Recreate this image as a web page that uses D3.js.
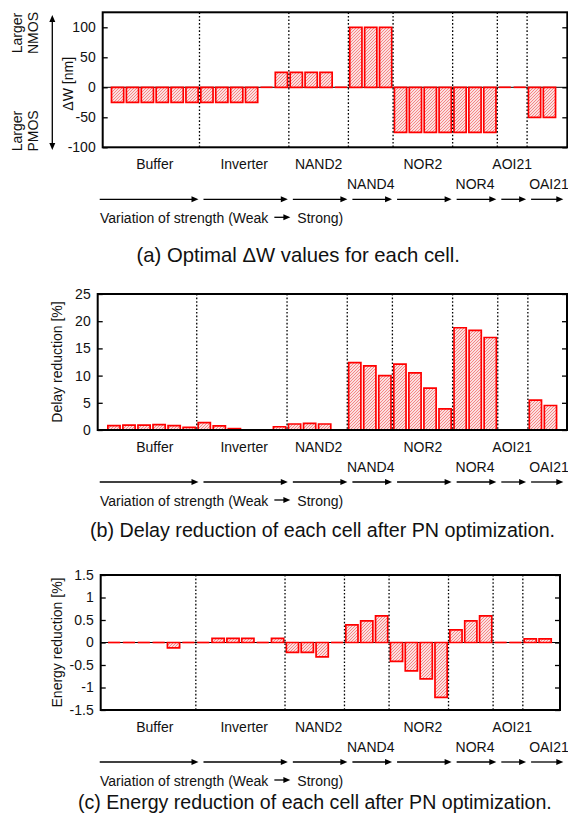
<!DOCTYPE html>
<html>
<head>
<meta charset="utf-8">
<script src="https://cdn.jsdelivr.net/npm/d3@7"></script>
<style>
  html, body { margin: 0; padding: 0; background: #fff; }
  svg { display: block; font-family: "Liberation Sans", Arial, Helvetica, sans-serif; }
</style>
</head>
<body>
<svg id="chart" width="568" height="814"></svg>
<script>
// cell groups, in order, with number of strengths each
const cells = ["Buffer", "Inverter", "NAND2", "NAND4", "NOR2", "NOR4", "AOI21", "OAI21"];
const cellSizes = [6, 6, 4, 3, 4, 3, 2, 2];
const cellRow = [0, 0, 0, 1, 0, 1, 0, 1];

// (a) optimal delta W [nm]
const deltaW = [-25, -25, -25, -25, -25, -25,
                -25, -25, -25, -25, 0, 25,
                25, 25, 25, 0,
                100, 100, 100,
                -75, -75, -75, -75,
                -75, -75, -75,
                0, 0,
                -50, -50];
// (b) delay reduction [%]
const delay = [0.8, 0.9, 0.9, 1.0, 0.8, 0.5,
               1.35, 0.75, 0.25, 0, 0, 0.6,
               1.1, 1.2, 1.1, 0,
               12.4, 11.8, 10.0,
               12.1, 10.5, 7.7, 3.9,
               18.8, 18.3, 17.0,
               0, 0,
               5.5, 4.5];
// (c) energy reduction [%]
const energy = [0, 0, 0, 0, -0.12, 0,
                0, 0.09, 0.09, 0.09, 0, 0.09,
                -0.22, -0.22, -0.32, 0,
                0.39, 0.48, 0.59,
                -0.42, -0.63, -0.81, -1.22,
                0.28, 0.48, 0.59,
                0, 0,
                0.08, 0.08];

const ticksA = [-100, -50, 0, 50, 100];
const ticksB = [0, 5, 10, 15, 20, 25];
const ticksC = [-1.5, -1, -0.5, 0, 0.5, 1, 1.5];

const svg = d3.select("#chart");
const red = "#ff0000";
const fs = 14;

// hatch pattern for the bars
const pat = svg.append("defs").append("pattern")
  .attr("id", "hatch").attr("patternUnits", "userSpaceOnUse")
  .attr("width", 3).attr("height", 3);
pat.append("rect").attr("width", 3).attr("height", 3).attr("fill", "#fbe0e0");
pat.append("path").attr("d", "M-1,1 l2,-2 M0,3 l3,-3 M2,4 l2,-2")
  .attr("stroke", "#f47c7c").attr("stroke-width", 0.9);

// group boundaries in slot units
const starts = [];
cellSizes.reduce((acc, n) => { starts.push(acc); return acc + n; }, 0);
const bounds = starts.slice(1).map(s => s - 0.5);

// common scale used for the label / arrow rows (same in all panels)
const xLab = d3.scaleLinear().domain([-1, 30.2]).range([102.7, 567.3]);

function panel(cfg) {
  const x = d3.scaleLinear().domain(cfg.xdom).range([cfg.left, cfg.right]);
  const y = d3.scaleLinear().domain(cfg.ydom).range([cfg.bottom, cfg.top]);
  const g = svg.append("g");
  const bw = 12.2;

  if (cfg.zeroLine) {
    g.append("line")
      .attr("x1", cfg.left).attr("x2", cfg.right)
      .attr("y1", y(0)).attr("y2", y(0))
      .attr("stroke", "#000").attr("stroke-width", 1);
  }

  // bars (paths so that zero-height bars still show as a line)
  g.selectAll("path.bar").data(cfg.values).enter().append("path")
    .attr("class", "bar")
    .attr("d", (v, i) => {
      const x0 = x(i) - bw / 2, x1 = x(i) + bw / 2, y0 = y(0), y1 = y(v);
      return v === 0 ? `M${x0},${y0}H${x1}` : `M${x0},${y0}V${y1}H${x1}V${y0}Z`;
    })
    .attr("fill", "url(#hatch)")
    .attr("stroke", red).attr("stroke-width", 1.7);

  // dotted separators between cell groups
  g.selectAll("line.sep").data(bounds).enter().append("line")
    .attr("x1", d => x(d)).attr("x2", d => x(d))
    .attr("y1", cfg.top).attr("y2", cfg.bottom)
    .attr("stroke", "#000").attr("stroke-width", 1.3)
    .attr("stroke-dasharray", "1.6,2");

  // y axis (left labels, ticks mirrored on right)
  const ax = g.append("g").attr("transform", `translate(${cfg.left},0)`)
    .call(d3.axisLeft(y).tickValues(cfg.ticks).tickSize(-5).tickPadding(7)
      .tickFormat(d => String(d)));
  ax.select(".domain").remove();
  ax.selectAll("line").attr("stroke-width", 1.3);
  ax.selectAll("text").attr("font-size", fs).attr("fill", "#111")
    .attr("font-family", "Liberation Sans, Arial, sans-serif");
  const ax2 = g.append("g").attr("transform", `translate(${cfg.right},0)`)
    .call(d3.axisRight(y).tickValues(cfg.ticks).tickSize(-5).tickFormat(""));
  ax2.select(".domain").remove();
  ax2.selectAll("line").attr("stroke-width", 1.3);

  // frame
  g.append("rect")
    .attr("x", cfg.left).attr("y", cfg.top)
    .attr("width", cfg.right - cfg.left).attr("height", cfg.bottom - cfg.top)
    .attr("fill", "none").attr("stroke", "#000").attr("stroke-width", 2);

  // y label
  g.append("text")
    .attr("transform", `translate(${cfg.ylabX},${(cfg.top + cfg.bottom) / 2 + cfg.ylabDy}) rotate(-90)`)
    .attr("text-anchor", "middle").attr("dominant-baseline", "central")
    .attr("font-size", fs).attr("fill", "#111").text(cfg.ylabel);

  // cell labels
  const b = cfg.bottom;
  g.selectAll("text.cell").data(cells).enter().append("text")
    .attr("x", (d, i) => xLab(starts[i] + (cellSizes[i] - 1) / 2) + (d === "OAI21" ? 7 : 0))
    .attr("y", (d, i) => b + (cellRow[i] ? 36.5 : 17) + 5)
    .attr("text-anchor", "middle").attr("font-size", fs).attr("fill", "#111")
    .text(d => d);

  // strength arrows per group
  const edges = [-1.2].concat(bounds, [30.0]);
  const ay = b + 52;
  for (let i = 0; i < cells.length; i++) {
    const xa = i === 0 ? xLab(edges[0]) : xLab(edges[i]) + 4;
    const xb = xLab(edges[i + 1]) - 1;
    arrow(g, xa, xb, ay);
  }

  // "Variation of strength (Weak -> Strong)"
  const ty = b + 70.5 + 5;
  const t1 = g.append("text").attr("x", 100).attr("y", ty)
    .attr("font-size", fs).attr("fill", "#111").text("Variation of strength (Weak");
  const w1 = t1.node().getComputedTextLength();
  arrow(g, 100 + w1 + 6, 100 + w1 + 22, b + 70);
  g.append("text").attr("x", 100 + w1 + 29).attr("y", ty)
    .attr("font-size", fs).attr("fill", "#111").text("Strong)");

  // caption
  svg.append("text").attr("x", cfg.capX).attr("y", cfg.capY)
    .attr("font-size", cfg.capSize).attr("fill", "#111").text(cfg.caption);
}

function arrow(g, xa, xb, ay) {
  g.append("line").attr("x1", xa).attr("x2", xb - 5).attr("y1", ay).attr("y2", ay)
    .attr("stroke", "#000").attr("stroke-width", 1.3);
  g.append("path").attr("d", `M${xb},${ay}L${xb - 7},${ay - 3}L${xb - 7},${ay + 3}Z`)
    .attr("fill", "#000");
}

panel({ values: deltaW, ticks: ticksA, ydom: [-100, 125], xdom: [-1, 30.2],
  left: 102.7, right: 567.3, top: 12.3, bottom: 147.3, zeroLine: true,
  ylabel: "\u0394W [nm]", ylabX: 68, ylabDy: 4,
  caption: "(a) Optimal \u0394W values for each cell.", capX: 136.5, capY: 262, capSize: 20.3 });

panel({ values: delay, ticks: ticksB, ydom: [0, 25], xdom: [-1.08, 30.1],
  left: 97.7, right: 567, top: 294, bottom: 430, zeroLine: false,
  ylabel: "Delay reduction [%]", ylabX: 57, ylabDy: 0,
  caption: "(b) Delay reduction of each cell after PN optimization.", capX: 90, capY: 537, capSize: 19.7 });

panel({ values: energy, ticks: ticksC, ydom: [-1.5, 1.5], xdom: [-0.9, 30],
  left: 100.7, right: 560, top: 575, bottom: 710, zeroLine: true,
  ylabel: "Energy reduction [%]", ylabX: 57, ylabDy: 0,
  caption: "(c) Energy reduction of each cell after PN optimization.", capX: 78, capY: 809, capSize: 19.6 });

// side notes for panel (a)
const side = svg.append("g").attr("font-size", fs).attr("fill", "#111")
  .attr("text-anchor", "middle").attr("dominant-baseline", "central");
[["Larger", 16.5, 33], ["NMOS", 33, 33], ["Larger", 16.5, 131], ["PMOS", 33, 131]]
  .forEach(([t, tx, tyy]) => side.append("text")
    .attr("transform", `translate(${tx},${tyy}) rotate(-90)`).text(t));
svg.append("line").attr("x1", 52.3).attr("x2", 52.3).attr("y1", 21).attr("y2", 144)
  .attr("stroke", "#000").attr("stroke-width", 1.3);
svg.append("path").attr("d", "M52.3,15L49.3,22L55.3,22Z M52.3,150L49.3,143L55.3,143Z")
  .attr("fill", "#000");
</script>
</body>
</html>
